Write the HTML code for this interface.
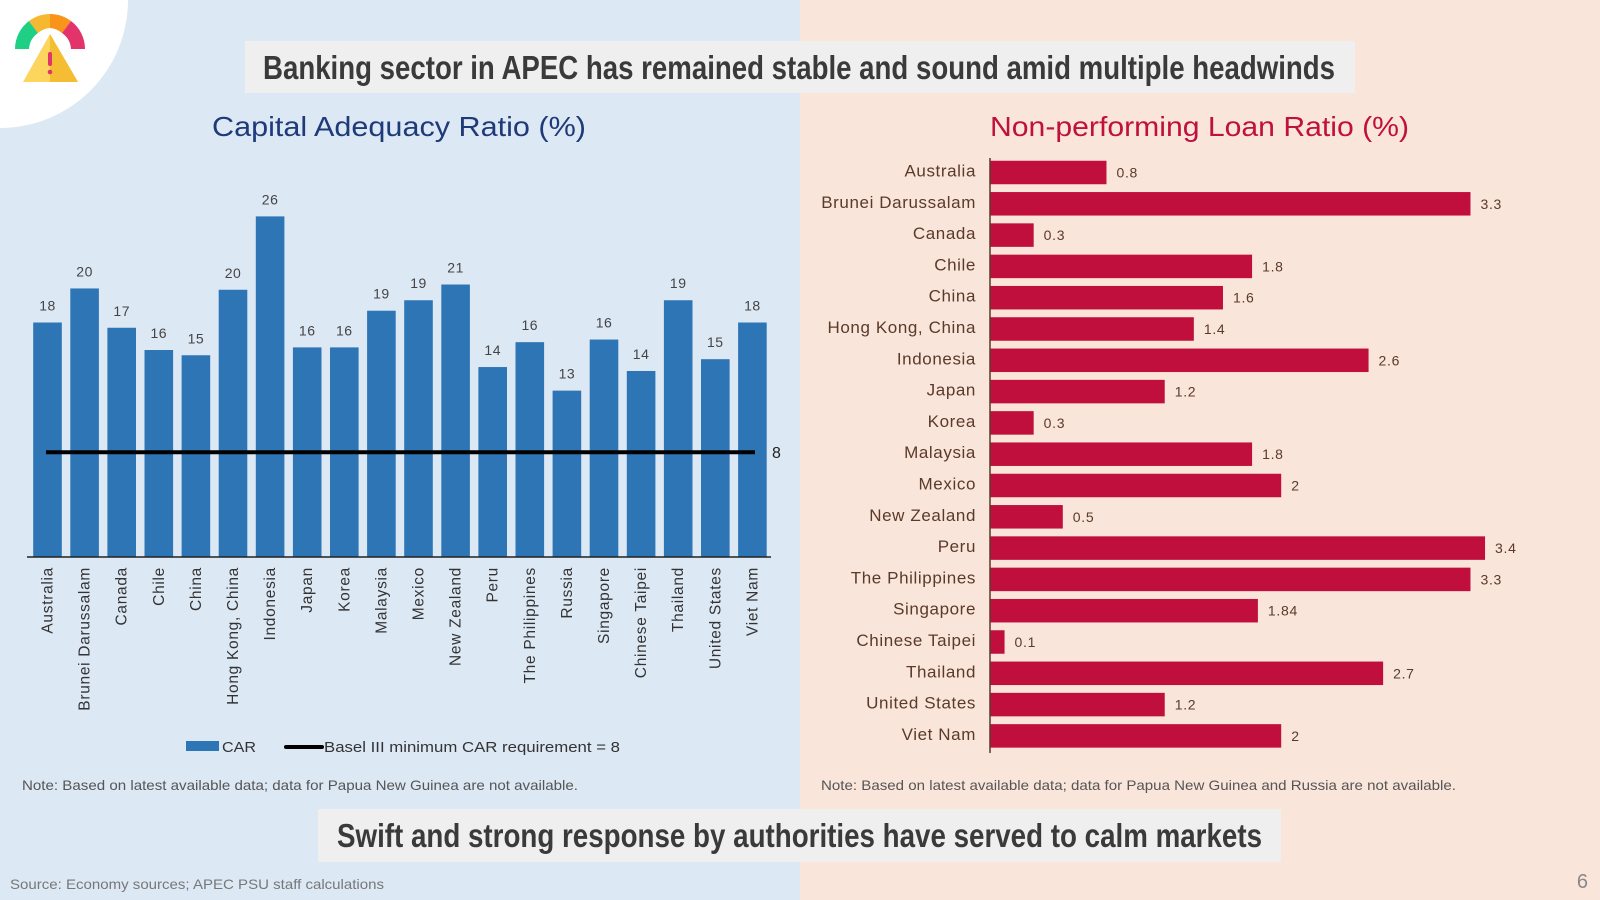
<!DOCTYPE html>
<html><head><meta charset="utf-8"><style>
html,body{margin:0;padding:0;width:1600px;height:900px;overflow:hidden;font-family:"Liberation Sans",sans-serif}
svg text{font-family:"Liberation Sans",sans-serif}
.cond{font-weight:bold}
</style></head><body>
<svg id="s" width="1600" height="900" xmlns="http://www.w3.org/2000/svg">
<rect x="0" y="0" width="800" height="900" fill="#dde8f5"/>
<rect x="800" y="0" width="800" height="900" fill="#fae5da"/>
<circle cx="0" cy="0" r="128" fill="#ffffff"/>
<g>
<path d="M15 49 A35 35 0 0 1 29 21 L38 33 A21 21 0 0 0 29 49 Z" fill="#1fcf84"/>
<path d="M29 21 A35 35 0 0 1 50 14 L50 28 A21 21 0 0 0 38 33 Z" fill="#f6b731"/>
<path d="M50 14 A35 35 0 0 1 71 21 L62 33 A21 21 0 0 0 50 28 Z" fill="#f89419"/>
<path d="M71 21 A35 35 0 0 1 85 49 L71 49 A21 21 0 0 0 62 33 Z" fill="#e2336a"/>
<path d="M50 34 L78 82 L23 82 Z" fill="#fbd55e"/>
<path d="M50 34 L78 82 L50 82 Z" fill="#f5bd33"/>
<rect x="48" y="52" width="4" height="14" rx="2" fill="#e2336a"/>
<circle cx="50" cy="72" r="2.3" fill="#e2336a"/>
</g>
<rect x="245" y="41" width="1110" height="52" fill="#efefef"/>
<text class="cond" x="263" y="79" font-size="33" fill="#3a3a3a" textLength="1072" lengthAdjust="spacingAndGlyphs">Banking sector in APEC has remained stable and sound amid multiple headwinds</text>
<text x="212" y="136" font-size="28" fill="#1f3a78" textLength="374" lengthAdjust="spacingAndGlyphs">Capital Adequacy Ratio (%)</text>
<text x="990" y="136" font-size="28" fill="#c0103c" textLength="419" lengthAdjust="spacingAndGlyphs">Non-performing Loan Ratio (%)</text>
<g id="car"></g>
<g id="npl"></g>
<g>
<rect x="186" y="741" width="33" height="10" fill="#2e75b6"/>
<text x="222" y="752" font-size="15" fill="#333" textLength="34" lengthAdjust="spacingAndGlyphs">CAR</text>
<line x1="286" y1="747" x2="322" y2="747" stroke="#000" stroke-width="4" stroke-linecap="round"/>
<text x="324" y="752" font-size="15" fill="#333" textLength="296" lengthAdjust="spacingAndGlyphs">Basel III minimum CAR requirement = 8</text>
</g>
<text x="22" y="790" font-size="14" fill="#555" textLength="556" lengthAdjust="spacingAndGlyphs">Note: Based on latest available data; data for Papua New Guinea are not available.</text>
<text x="821" y="790" font-size="14" fill="#555" textLength="635" lengthAdjust="spacingAndGlyphs">Note: Based on latest available data; data for Papua New Guinea and Russia are not available.</text>
<rect x="318" y="809" width="963" height="53" fill="#efefef"/>
<text class="cond" x="337" y="847" font-size="33" fill="#3a3a3a" textLength="925" lengthAdjust="spacingAndGlyphs">Swift and strong response by authorities have served to calm markets</text>
<text x="10" y="889" font-size="14" fill="#777" textLength="374" lengthAdjust="spacingAndGlyphs">Source: Economy sources; APEC PSU staff calculations</text>
<text x="1588" y="888" text-anchor="end" font-size="20" fill="#888">6</text>
</svg>
<script>
const carCategories=["Australia","Brunei Darussalam","Canada","Chile","China","Hong Kong, China","Indonesia","Japan","Korea","Malaysia","Mexico","New Zealand","Peru","The Philippines","Russia","Singapore","Chinese Taipei","Thailand","United States","Viet Nam"];
const carValues=[17.9,20.5,17.5,15.8,15.4,20.4,26,16,16,18.8,19.6,20.8,14.5,16.4,12.7,16.6,14.2,19.6,15.1,17.9];
const carLabels=["18","20","17","16","15","20","26","16","16","19","19","21","14","16","13","16","14","19","15","18"];
const baselMin=8;
const nplCategories=["Australia","Brunei Darussalam","Canada","Chile","China","Hong Kong, China","Indonesia","Japan","Korea","Malaysia","Mexico","New Zealand","Peru","The Philippines","Singapore","Chinese Taipei","Thailand","United States","Viet Nam"];
const nplValues=[0.8,3.3,0.3,1.8,1.6,1.4,2.6,1.2,0.3,1.8,2,0.5,3.4,3.3,1.84,0.1,2.7,1.2,2];
const nplLabels=["0.8","3.3","0.3","1.8","1.6","1.4","2.6","1.2","0.3","1.8","2","0.5","3.4","3.3","1.84","0.1","2.7","1.2","2"];
const NS="http://www.w3.org/2000/svg";
function mk(t,a,p){const e=document.createElementNS(NS,t);for(const k in a)e.setAttribute(k,a[k]);p.appendChild(e);return e;}
const car=document.getElementById('car');


const base=557,unit=13.1,x0=47.5,step=37.1,bw=28.6;
const yS=v=>base-v*unit, xS=i=>x0+i*step;
carCategories.forEach((c,i)=>{
  const v=carValues[i];
  const r=mk('rect',{x:xS(i)-bw/2,y:yS(v),width:bw,height:v*unit,fill:'#2e75b6'},car);
  
  
  const t=mk('text',{x:xS(i),y:yS(v)-12,'text-anchor':'middle','font-size':14,fill:'#444','letter-spacing':0.5},car);
  t.textContent=carLabels[i];
  
  
  const l=mk('text',{transform:`translate(${xS(i)+5},567) rotate(-90)`,'text-anchor':'end','font-size':15.5,fill:'#333','letter-spacing':0.7},car);
  l.textContent=c;
  
  
});
const ax=mk('line',{x1:27,y1:base,x2:771,y2:base,stroke:'#222','stroke-width':1.5},car);


const bl=mk('line',{x1:46,y1:yS(baselMin),x2:755,y2:yS(baselMin),stroke:'#000','stroke-width':4},car);


const blt=mk('text',{x:772,y:yS(baselMin)+6,'font-size':16,fill:'#222'},car);
blt.textContent=baselMin;


const npl=document.getElementById('npl');


const ax0=990,su=145.6,y0=172.5,ys=31.3,bh=23.5;
const xN=v=>ax0+v*su, yN=i=>y0+i*ys;
nplCategories.forEach((c,i)=>{
  const v=nplValues[i];
  const r=mk('rect',{x:ax0,y:yN(i)-bh/2,width:xN(v)-ax0,height:bh,fill:'#c00f3c'},npl);
  
  
  const t=mk('text',{x:xN(v)+10,y:yN(i)+5,'font-size':14,fill:'#5a3a2a','letter-spacing':0.7},npl);
  t.textContent=nplLabels[i];
  
  
  const l=mk('text',{x:976,y:yN(i)+4,'text-anchor':'end','font-size':17,fill:'#5a3a2a','letter-spacing':0.6},npl);
  l.textContent=c;
  
  
});
const ay=mk('line',{x1:ax0,y1:158,x2:ax0,y2:753,stroke:'#5a3a2a','stroke-width':1.5},npl);


</script>
</body></html>
